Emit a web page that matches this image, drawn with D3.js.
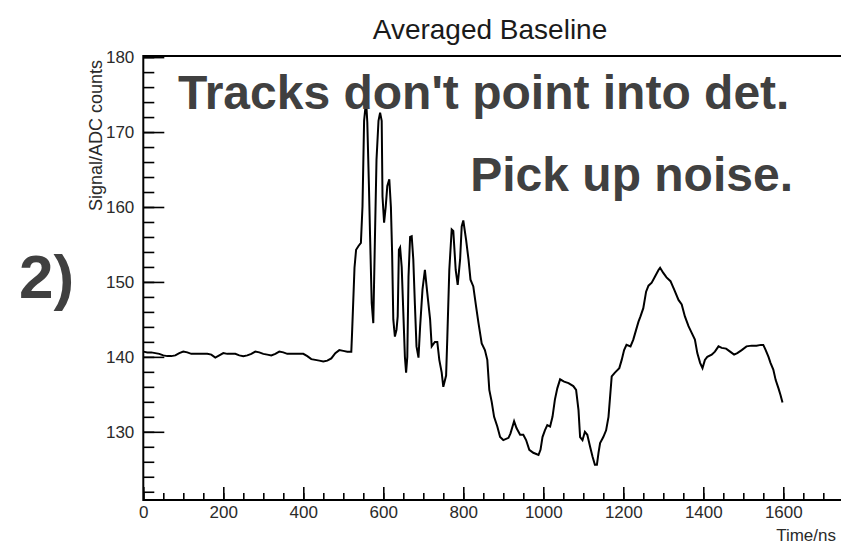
<!DOCTYPE html>
<html>
<head>
<meta charset="utf-8">
<script src="https://cdn.jsdelivr.net/npm/d3@7"></script>
<style>
	body { margin: 0; background: #fff; }
	text { font-family: "Liberation Sans", Arial, sans-serif; }
</style>
</head>
<body>
<svg id="chart" width="841" height="546"></svg>
<script>
// time in ns and averaged baseline in ADC counts
var times = [
	0, 10, 20, 30, 40, 50, 60, 70, 80, 90, 100, 110, 120, 130, 140, 150, 160, 170, 180, 190,
	200, 210, 220, 230, 240, 250, 260, 270, 280, 290, 300, 310, 320, 330, 340, 350, 360, 370, 380, 390,
	400, 410, 420, 430, 440, 450, 460, 470, 480, 490, 500, 510, 520,
	522, 525, 528, 532, 538, 544, 548, 552, 557, 560, 564, 567, 571, 575, 579, 583, 588, 592, 596, 598,
	602, 606, 610, 615, 619, 622, 625, 629, 633, 636, 639, 642, 646, 650, 654, 657, 660, 663, 667, 671,
	675, 679, 683, 688, 692, 698, 704, 710, 717, 721, 729, 735, 740, 746, 750, 757, 760, 765, 771, 775,
	781, 786, 792, 796, 800, 807, 813, 818, 825, 832, 838, 846, 854, 860, 865, 871, 877, 885, 892, 900,
	913, 918, 927, 933, 942, 950, 957, 965, 975, 988, 993, 998, 1004, 1010, 1017, 1023, 1029, 1035, 1042, 1052,
	1063, 1075, 1082, 1088, 1092, 1098, 1104, 1110, 1117, 1123, 1129, 1134, 1138, 1142, 1150, 1157, 1163, 1167, 1171, 1179,
	1190, 1196, 1202, 1208, 1218, 1225, 1232, 1238, 1243, 1250, 1257, 1263, 1271, 1279, 1288, 1292, 1300, 1308, 1318, 1327,
	1338, 1346, 1354, 1363, 1371, 1379, 1385, 1392, 1398, 1404, 1410, 1421, 1429, 1438, 1446, 1457, 1467, 1477, 1485, 1496,
	1508, 1521, 1533, 1544, 1550, 1556, 1563, 1568, 1575, 1581, 1588, 1593, 1598
];
var counts = [
	140.7, 140.6, 140.6, 140.5, 140.4, 140.2, 140.1, 140.1, 140.2, 140.5, 140.7, 140.6, 140.4, 140.4, 140.4, 140.4, 140.4, 140.3, 139.9, 140.2,
	140.5, 140.4, 140.4, 140.4, 140.2, 140.1, 140.2, 140.4, 140.7, 140.6, 140.4, 140.3, 140.2, 140.4, 140.7, 140.6, 140.4, 140.4, 140.4, 140.4,
	140.4, 140.1, 139.7, 139.6, 139.5, 139.4, 139.5, 139.8, 140.5, 140.9, 140.8, 140.7, 140.7,
	143.3, 147.6, 151.9, 154.3, 154.8, 155.2, 160.1, 171.5, 174.2, 171.3, 163, 156, 147.2, 144.5, 155.6, 166.3, 171.5, 172.6, 171.5, 161.4,
	157.9, 160, 162.8, 163.7, 160, 154, 145, 142.7, 143.6, 145.4, 154.3, 154.6, 152, 146, 140, 137.9, 140, 150.7, 156, 156.1,
	153, 147, 141.4, 139.9, 144, 149, 151.6, 148.5, 145, 141.4, 142, 142, 139.6, 137.9, 136, 137.5, 142.5, 151.6, 157, 156.8,
	151.6, 149.6, 153, 157.4, 158.2, 155.6, 153, 150.3, 149.4, 146.7, 144.5, 141.8, 140.9, 139.6, 135.6, 134, 132, 130.7, 129.3, 128.9,
	129.2, 129.8, 131.4, 130.5, 129.6, 129.6, 128.9, 127.6, 127.2, 126.9, 127.6, 129.3, 130.2, 130.9, 130.7, 132, 134.3, 135.8, 137, 136.7,
	136.5, 136.1, 135.6, 132.9, 129.3, 128.9, 130, 129.6, 128, 126.7, 125.6, 125.6, 127.2, 128.5, 129.3, 130.2, 132, 134.7, 137.4, 137.9,
	138.5, 139.6, 140.9, 141.6, 141.4, 142.3, 143.6, 144.7, 145.4, 146.5, 148.7, 149.5, 149.9, 150.7, 151.6, 151.9, 151.2, 150.6, 150.1, 149,
	147.6, 147, 145.4, 144.1, 143.2, 142.3, 140.5, 139.2, 138.5, 139.6, 140, 140.3, 140.7, 141.4, 141.2, 141.1, 140.7, 140.3, 140.5, 140.9,
	141.4, 141.5, 141.5, 141.6, 141.6, 140.9, 140, 139.2, 138.3, 136.9, 135.8, 134.9, 133.9
];

var xMajorTicks = [0, 200, 400, 600, 800, 1000, 1200, 1400, 1600];
var xMinorTicks = d3.range(0, 1701, 50);
var yMajorTicks = [130, 140, 150, 160, 170, 180];
var yMinorTicks = d3.range(122, 181, 2);

var title = 'Averaged Baseline';
var xTitle = 'Time/ns';
var yTitle = 'Signal/ADC counts';
var notes = ["Tracks don't point into det.", 'Pick up noise.'];
var panelTag = '2)';

var svg = d3.select('#chart');
var frameLeft = 143.3, frameRight = 841, frameTop = 56, frameBottom = 500;

var x = d3.scaleLinear().domain([0, 1760]).range([frameLeft, frameLeft + 1760 * 0.4]);
var y = d3.scaleLinear().domain([120.9, 180.15]).range([frameBottom, frameTop]);

svg.append('rect').attr('width', 841).attr('height', 546).attr('fill', '#fff');

// minor ticks first, then majors with labels
svg.append('g')
	.attr('transform', 'translate(0,' + frameBottom + ')')
	.call(d3.axisBottom(x).tickValues(xMinorTicks).tickSize(-7).tickFormat(''))
	.call(function(g) { g.select('.domain').remove(); });
svg.append('g')
	.attr('transform', 'translate(0,' + frameBottom + ')')
	.call(d3.axisBottom(x).tickValues(xMajorTicks).tickSize(-13).tickPadding(6).tickFormat(d3.format('d')))
	.call(function(g) { g.select('.domain').remove(); });

svg.append('g')
	.attr('transform', 'translate(' + frameLeft + ',0)')
	.call(d3.axisLeft(y).tickValues(yMinorTicks).tickSize(-11).tickFormat(''))
	.call(function(g) { g.select('.domain').remove(); });
svg.append('g')
	.attr('transform', 'translate(' + frameLeft + ',0)')
	.call(d3.axisLeft(y).tickValues(yMajorTicks).tickSize(-21).tickPadding(9).tickFormat(d3.format('d')))
	.call(function(g) { g.select('.domain').remove(); });

svg.selectAll('.tick line').attr('stroke', '#000').attr('stroke-width', 1.6);
svg.selectAll('.tick text')
	.attr('font-family', '"Liberation Sans", Arial, sans-serif')
	.attr('font-size', 17)
	.attr('fill', '#2a2a2a');

// frame: left, bottom and top (right side falls outside the picture)
svg.append('path')
	.attr('d', 'M' + frameRight + ',' + frameTop + 'H' + frameLeft + 'V' + frameBottom + 'H' + frameRight)
	.attr('fill', 'none')
	.attr('stroke', '#000')
	.attr('stroke-width', 2);

var points = times.map(function(t, i) { return [t, counts[i]]; });
var line = d3.line()
	.x(function(d) { return x(d[0]); })
	.y(function(d) { return y(d[1]); });

svg.append('path')
	.datum(points)
	.attr('d', line)
	.attr('fill', 'none')
	.attr('stroke', '#000')
	.attr('stroke-width', 2)
	.attr('stroke-linejoin', 'miter');

svg.append('text')
	.attr('x', 490).attr('y', 39)
	.attr('text-anchor', 'middle')
	.attr('font-size', 28)
	.attr('fill', '#1a1a1a')
	.text(title);

svg.append('text')
	.attr('x', 836).attr('y', 541)
	.attr('text-anchor', 'end')
	.attr('font-size', 17)
	.attr('fill', '#2a2a2a')
	.text(xTitle);

svg.append('text')
	.attr('transform', 'translate(102,60) rotate(-90)')
	.attr('text-anchor', 'end')
	.attr('font-size', 18)
	.attr('fill', '#2a2a2a')
	.text(yTitle);

svg.append('text')
	.attr('x', 178).attr('y', 109)
	.attr('font-size', 48).attr('font-weight', 'bold')
	.attr('fill', '#404040')
	.text(notes[0]);
svg.append('text')
	.attr('x', 793).attr('y', 191)
	.attr('text-anchor', 'end')
	.attr('font-size', 48).attr('font-weight', 'bold')
	.attr('fill', '#404040')
	.text(notes[1]);
svg.append('text')
	.attr('x', 19).attr('y', 298)
	.attr('font-size', 62).attr('font-weight', 'bold')
	.attr('fill', '#404040')
	.text(panelTag);
</script>
</body>
</html>
